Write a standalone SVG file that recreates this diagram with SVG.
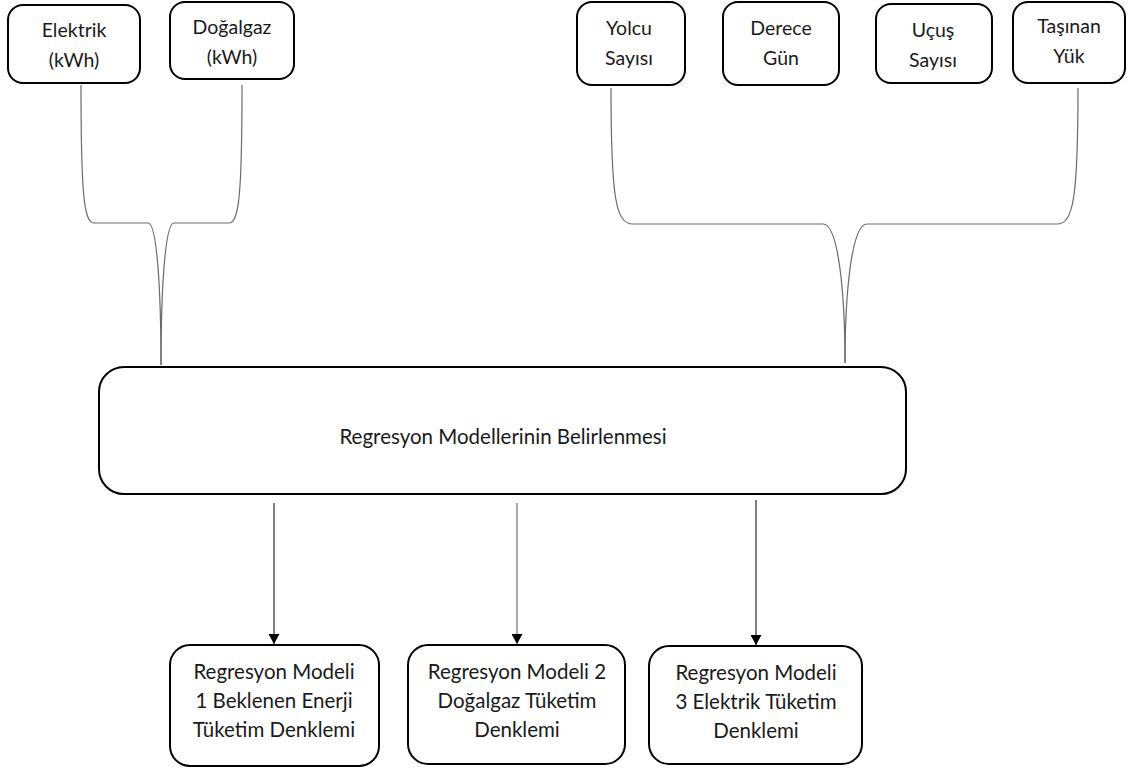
<svg xmlns="http://www.w3.org/2000/svg" width="1128" height="771" viewBox="0 0 1128 771">
  <defs>
    <style>
      .box { fill: #ffffff; stroke: #000000; stroke-width: 2; }
      .lbl { font-family: Lato, "Open Sans", "Liberation Sans", sans-serif; fill: #1a1a1a; text-anchor: middle; }
      .top { font-size: 19.5px; }
      .big { font-size: 20.5px; }
      .link { fill: none; stroke: #6a6a6a; stroke-width: 1.2; }
      .arrow { fill: none; stroke: #000000; stroke-width: 1; marker-end: url(#head); }
    </style>
    <marker id="head" viewBox="0 0 10 11" refX="10" refY="5.5" markerWidth="10" markerHeight="11" markerUnits="userSpaceOnUse" orient="auto">
      <path d="M0,0 L10,5.5 L0,11 Z" fill="#000000"/>
    </marker>
  </defs>
  <rect width="1128" height="771" fill="#ffffff"/>

  <!-- input variables -->
  <g id="elektrik">
    <rect class="box" x="8" y="5" width="132" height="78" rx="15"/>
    <text class="lbl top" x="74" y="37">Elektrik</text>
    <text class="lbl top" x="74" y="67">(kWh)</text>
  </g>
  <g id="dogalgaz">
    <rect class="box" x="170" y="2" width="124" height="77" rx="15"/>
    <text class="lbl top" x="232" y="34">Doğalgaz</text>
    <text class="lbl top" x="232" y="64">(kWh)</text>
  </g>
  <g id="yolcu">
    <rect class="box" x="577" y="2" width="108" height="83" rx="15"/>
    <text class="lbl top" x="629" y="35">Yolcu</text>
    <text class="lbl top" x="629" y="65">Sayısı</text>
  </g>
  <g id="derece">
    <rect class="box" x="723" y="2" width="116" height="83" rx="15"/>
    <text class="lbl top" x="781" y="35">Derece</text>
    <text class="lbl top" x="781" y="65">Gün</text>
  </g>
  <g id="ucus">
    <rect class="box" x="876" y="4" width="116" height="79" rx="15"/>
    <text class="lbl top" x="933" y="37">Uçuş</text>
    <text class="lbl top" x="933" y="67">Sayısı</text>
  </g>
  <g id="tasinan">
    <rect class="box" x="1013" y="2" width="112" height="81" rx="15"/>
    <text class="lbl top" x="1069" y="33">Taşınan</text>
    <text class="lbl top" x="1069" y="63">Yük</text>
  </g>

  <!-- model selection -->
  <g id="belirleme">
    <rect class="box" x="99" y="367" width="807" height="127" rx="25"/>
    <text class="lbl big" x="503" y="444">Regresyon Modellerinin Belirlenmesi</text>
  </g>

  <!-- resulting equations -->
  <g id="model1">
    <rect class="box" x="170" y="645" width="209" height="121" rx="20"/>
    <text class="lbl big" x="274" y="679">Regresyon Modeli</text>
    <text class="lbl big" x="274" y="708">1 Beklenen Enerji</text>
    <text class="lbl big" x="274" y="737">Tüketim Denklemi</text>
  </g>
  <g id="model2">
    <rect class="box" x="408" y="645" width="217" height="119" rx="20"/>
    <text class="lbl big" x="517" y="679">Regresyon Modeli 2</text>
    <text class="lbl big" x="517" y="708">Doğalgaz Tüketim</text>
    <text class="lbl big" x="517" y="737">Denklemi</text>
  </g>
  <g id="model3">
    <rect class="box" x="649" y="646" width="213" height="118" rx="20"/>
    <text class="lbl big" x="756" y="680">Regresyon Modeli</text>
    <text class="lbl big" x="756" y="709">3 Elektrik Tüketim</text>
    <text class="lbl big" x="756" y="738">Denklemi</text>
  </g>

  <!-- connectors -->
  <g id="connectors">
    <path class="link" d="M81,85 C81,195 84,223 94,223 L148,223 C157,223 161,290 161,365"/>
    <path class="link" d="M242,85 C242,195 239,223 229,223 L174,223 C165,223 161,290 161,365"/>
    <path class="link" d="M611,88 C611,200 616,224 633,224 L823,224 C838,224 845,290 845,363"/>
    <path class="link" d="M1078,88 C1078,200 1073,224 1057,224 L867,224 C852,224 845,290 845,363"/>
    <line class="arrow" x1="274" y1="503" x2="274" y2="644"/>
    <line class="arrow" x1="517" y1="503" x2="517" y2="644" style="stroke:#555555"/>
    <line class="arrow" x1="756" y1="500" x2="756" y2="645"/>
  </g>
</svg>
